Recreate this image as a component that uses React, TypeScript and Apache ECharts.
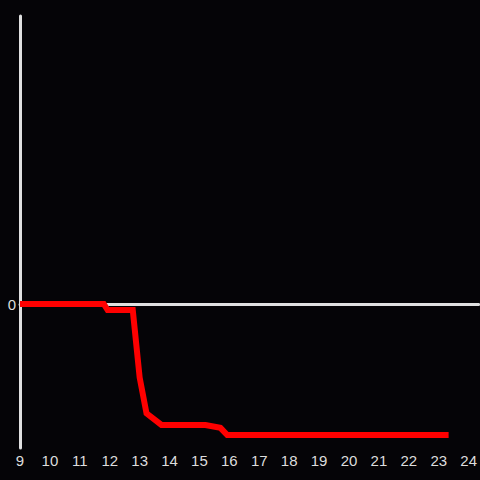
import React, { useEffect, useRef } from "react";
import * as echarts from "echarts";

const xValues = [9, 11.8, 11.93, 12.77, 13.0, 13.23, 13.73, 15.2, 15.7, 15.93, 23.33];
const yValues = [0, 0, -0.042, -0.042, -0.51, -0.76, -0.84, -0.84, -0.86, -0.91, -0.91];
const xTickMin = 9;
const xTickMax = 24;

export default function App() {
  const ref = useRef<HTMLDivElement>(null);
  useEffect(() => {
    if (!ref.current) return;
    const chart = echarts.init(ref.current, null, { renderer: "svg" });
    const axisColor = "#e0e0e0";
    chart.setOption({
      animation: false,
      backgroundColor: "#050407",
      grid: { left: 20, right: 0, top: 16, bottom: 32, containLabel: false },
      xAxis: {
        type: "value",
        min: xTickMin,
        max: xTickMax + 10 / 30,
        interval: 1,
        axisLine: { show: true, onZero: true, lineStyle: { color: axisColor, width: 3 } },
        axisTick: { show: false },
        splitLine: { show: false },
        axisLabel: {
          color: "#dddddd",
          fontSize: 15,
          fontFamily: "Liberation Sans",
          margin: 5,
          showMaxLabel: false,
          formatter: (v: number) => (Number.isInteger(v) ? String(v) : ""),
        },
      },
      yAxis: {
        type: "value",
        min: -1,
        max: 2,
        interval: 1,
        axisLine: { show: true, onZero: false, lineStyle: { color: axisColor, width: 3 } },
        axisTick: { show: false },
        splitLine: { show: false },
        axisLabel: {
          color: "#dddddd",
          fontSize: 15,
          fontFamily: "Liberation Sans",
          margin: 4,
          formatter: (v: number) => (v === 0 ? "0" : ""),
        },
      },
      series: [
        {
          type: "line",
          data: xValues.map((x, i) => [x, yValues[i]]),
          showSymbol: false,
          symbol: "none",
          lineStyle: { color: "#ff0000", width: 6, join: "miter" },
          z: 5,
        },
      ],
    });
    return () => chart.dispose();
  }, []);
  return <div ref={ref} style={{ width: 480, height: 480, position: "absolute", left: 0, top: 0 }} />;
}
